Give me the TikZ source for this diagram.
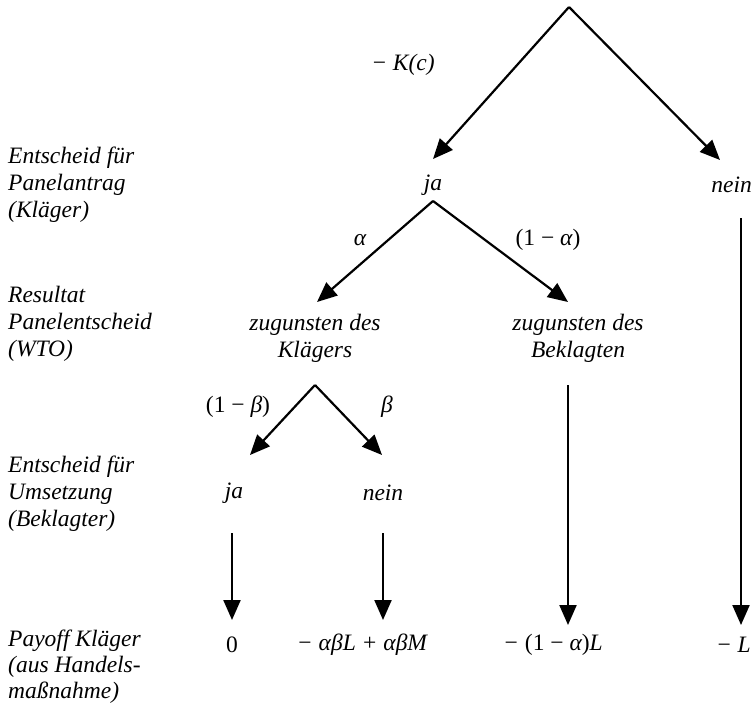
\documentclass[tikz,border=0pt]{standalone}
\usepackage{fontspec}
\setmainfont{Liberation Serif}
\usetikzlibrary{arrows.meta}
\tikzset{
  lbl/.style={font=\itshape\fontsize{23.5}{27}\selectfont,inner sep=0pt},
  side/.style={lbl,anchor=west,align=left},
  arr/.style={line width=2.2pt,-{Triangle[length=20pt,width=17pt]}},
}
\newcommand{\up}[1]{{\upshape #1}}
\begin{document}
\begin{tikzpicture}[x=1pt,y=-1pt]
        \useasboundingbox (0,0) rectangle (751,707);
        %% labels left
        \node[side] (lvl1) at (8,185) {Entscheid für\\Panelantrag\\(Kläger)};
        \node[side] (lvl2) at (8,324) {Resultat\\Panelentscheid\\(WTO)};
        \node[side] (lvl3) at (8,494) {Entscheid für\\Umsetzung\\(Beklagter)};
        \node[side,font=\itshape\fontsize{23.5}{26}\selectfont] (lvl4) at (8,667) {Payoff Kläger\\(aus Handels-\\maßnahme)};
        %% tree nodes
        \node[lbl] (ja1) at (433,185) {ja};
        \node[lbl,anchor=east] (nein1) at (752,185) {nein};
        \node[lbl,align=center] (kl) at (315,338) {zugunsten des\\Klägers};
        \node[lbl,align=center] (bk) at (578,338) {zugunsten des\\Beklagten};
        \node[lbl] (ja2) at (234,493) {ja};
        \node[lbl] (nein2) at (383,493) {nein};
        %% payoffs
        \node[lbl] (p1) at (232,645) {\up{0}};
        \node[lbl] (p2) at (362,645) {− αβL + αβM};
        \node[lbl] (p3) at (553,645) {− \up{(1 −} α\up{)}L};
        \node[lbl,anchor=east] (p4) at (751,645) {− L};
        %% branch points and tips
        \coordinate (top) at (569,7);
        \coordinate (ja1b) at (433,201);
        \coordinate (klb) at (315,385);
        \coordinate (tja1) at (433,159);
        \coordinate (tnein1) at (720,160);
        \coordinate (tkl) at (317,302);
        \coordinate (tbk) at (568,302);
        \coordinate (tja2) at (250,455);
        \coordinate (tnein2) at (382,455);
        %% arrows
        \draw[arr] (top) -- (tja1);
        \draw[arr] (top) -- (tnein1);
        \draw[arr] (ja1b) -- (tkl);
        \draw[arr] (ja1b) -- (tbk);
        \draw[arr] (klb) -- (tja2);
        \draw[arr] (klb) -- (tnein2);
        \draw[arr] (232,533) coordinate (sja2) -- (232,620) coordinate (ep1);
        \draw[arr] (383,533) coordinate (snein2) -- (383,620) coordinate (ep2);
        \draw[arr] (568,385) coordinate (sbk) -- (568,625) coordinate (ep3);
        \draw[arr] (741,218) coordinate (snein1) -- (741,625) coordinate (ep4);
        %% branch labels
        \node[lbl] (kc) at (403,65) {− K(c)};
        \node[lbl] (la) at (360,240) {α};
        \node[lbl] (l1a) at (548,240) {\up{(1 −} α\up{)}};
        \node[lbl] (l1b) at (238,407) {\up{(1 −} β\up{)}};
        \node[lbl] (lb) at (387,407) {β};
    \end{tikzpicture}
\end{document}
